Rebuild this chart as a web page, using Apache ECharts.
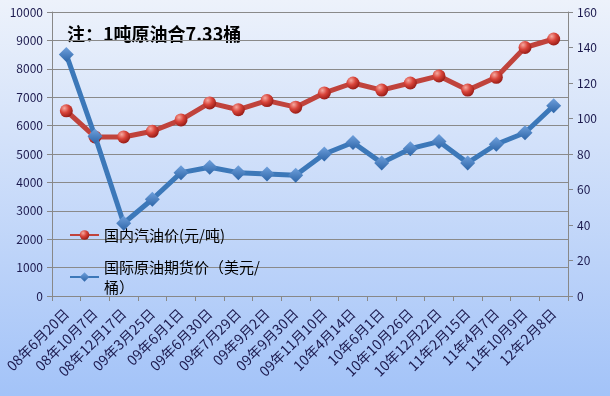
<!DOCTYPE html>
<html><head><meta charset="utf-8">
<script src="https://cdn.jsdelivr.net/npm/echarts@6/dist/echarts.min.js"></script>
<style>html,body{margin:0;padding:0;}#c{width:610px;height:396px;}</style>
</head><body><div id="c"></div>
<script>
const categories = ['08年6月20日','08年10月7日','08年12月17日','09年3月25日','09年6月1日','09年6月30日','09年7月29日','09年9月2日','09年9月30日','09年11月10日','10年4月14日','10年6月1日','10年10月26日','10年12月22日','11年2月15日','11年4月7日','11年10月9日','12年2月8日'];
const domesticGasoline = [6520,5600,5600,5800,6200,6800,6560,6880,6650,7150,7500,7250,7500,7750,7250,7700,8750,9050];
const crudeFutures = [136,90,41,54.5,69.5,72.5,69.5,68.7,68,80,86.5,75,83,87,75,85.5,92,107.2];
const leftTicks = {min:0,max:10000,interval:1000};
const rightTicks = {min:0,max:160,interval:20};
const seriesNames = ['国内汽油价(元/吨)','国际原油期货价（美元/桶）'];
const legendLabels = {'国内汽油价(元/吨)':'国内汽油价(元/吨)','国际原油期货价（美元/桶）':'国际原油期货价（美元/\n桶）'};
const note = '注：1吨原油合7.33桶';

const chart = echarts.init(document.getElementById('c'));
const axisLabelColor = '#1c1a4e';
const font = '"Noto Sans CJK SC", "DejaVu Sans", sans-serif';
chart.setOption({
  backgroundColor: new echarts.graphic.LinearGradient(0,0,0,1,[{offset:0,color:'#edf2fb'},{offset:1,color:'#a3c3f8'}]),
  animation:false,
  grid:{left:52,right:42,top:12,bottom:100},
  graphic:[{type:'text',left:67,top:25,style:{text:note,font:'bold 18px '+font,fill:'#000'}}],
  legend:{orient:'vertical',left:69,top:225,padding:0,itemGap:12,itemWidth:29,itemHeight:12,
    textStyle:{fontSize:15,color:'#000',fontFamily:font,lineHeight:20},
    formatter:function(n){return legendLabels[n];},
    data:seriesNames},
  xAxis:{type:'category',data:categories,boundaryGap:true,
    axisLine:{lineStyle:{color:'#888'}},
    axisTick:{show:true,length:5,lineStyle:{color:'#888'}},
    axisLabel:{rotate:45,color:axisLabelColor,fontSize:14,fontFamily:font,interval:0,margin:15}},
  yAxis:[
    {type:'value',min:leftTicks.min,max:leftTicks.max,interval:leftTicks.interval,position:'left',
     axisLine:{show:true,lineStyle:{color:'#888'}},axisTick:{show:true,length:5,lineStyle:{color:'#888'}},
     splitLine:{lineStyle:{color:'#8a8a8a',width:1}},
     axisLabel:{color:axisLabelColor,fontSize:12,fontFamily:font,margin:9,formatter:function(v){return String(v);}}},
    {type:'value',min:rightTicks.min,max:rightTicks.max,interval:rightTicks.interval,position:'right',
     axisLine:{show:true,lineStyle:{color:'#888'}},axisTick:{show:true,length:5,lineStyle:{color:'#888'}},
     splitLine:{show:false},
     axisLabel:{color:axisLabelColor,fontSize:12,fontFamily:font,margin:9}}
  ],
  series:[
    {name:seriesNames[0],type:'line',yAxisIndex:0,data:domesticGasoline,symbol:'circle',symbolSize:13,
     lineStyle:{color:'#c0433c',width:5},
     itemStyle:{color:new echarts.graphic.RadialGradient(0.35,0.3,0.7,[{offset:0,color:'#f5a9a0'},{offset:0.5,color:'#d9443a'},{offset:1,color:'#9b1e18'}]),borderWidth:0},
     z:2},
    {name:seriesNames[1],type:'line',yAxisIndex:1,data:crudeFutures,symbol:'diamond',symbolSize:15,
     lineStyle:{color:'#3c78b9',width:5},
     itemStyle:{color:new echarts.graphic.LinearGradient(0,0,0,1,[{offset:0,color:'#6fa0dc'},{offset:1,color:'#2d65a8'}]),borderWidth:0},
     z:3}
  ]
});
</script></body></html>
